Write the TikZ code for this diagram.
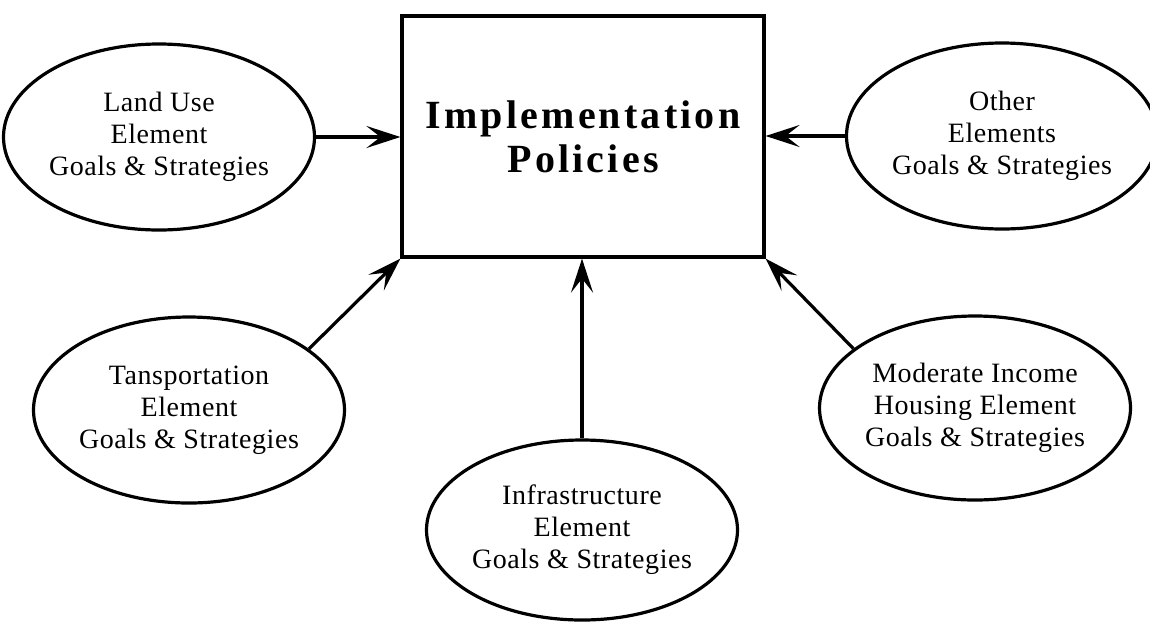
\documentclass[tikz,border=0pt]{standalone}
\usepackage{fontspec}
\setmainfont{Liberation Serif}
\usetikzlibrary{shapes.geometric,arrows.meta}
\begin{document}
\begin{tikzpicture}[x=0.5pt,y=-0.5pt,
  goal/.style={ellipse,draw,line width=1.6pt,inner sep=0pt,align=center,
    font=\fontsize{14}{16}\selectfont\addfontfeatures{LetterSpace=2}},
  feed/.style={-{Stealth[length=17pt,width=11pt,inset=7pt]},line width=1.6pt}]
  \useasboundingbox (0,0) rectangle (1150,622);
  \node (policies) at (583,136.5) [draw,line width=1.6pt,minimum width=181pt,minimum height=120.5pt,
    inner sep=0pt,align=center,font=\fontsize{20}{22}\selectfont\bfseries\addfontfeatures{LetterSpace=8}]
    {Implementation\\Policies};
  \node (landuse) at (159,137) [goal,minimum width=154pt,minimum height=93pt]
    {Land Use\\Element\\Goals \& Strategies};
  \node (other) at (1002,136) [goal,minimum width=146pt,minimum height=93pt]
    {Other\\Elements\\Goals \& Strategies};
  \node (transp) at (189,410) [goal,minimum width=152pt,minimum height=93pt]
    {Tansportation\\Element\\Goals \& Strategies};
  \node (moderate) at (975,408) [goal,minimum width=155pt,minimum height=92pt]
    {Moderate Income\\Housing Element\\Goals \& Strategies};
  \node (infra) at (582,530) [goal,minimum width=150pt,minimum height=90pt]
    {Infrastructure\\Element\\Goals \& Strategies};
  \draw (landuse.east) -- (landuse.east -| policies.west)[feed];
  \draw (other.west) -- (other.west -| policies.east)[feed];
  \draw (transp.27) -- (policies.south west)[feed];
  \draw (moderate.154) -- (policies.south east)[feed];
  \draw (infra.north) -- (infra.north |- policies.south)[feed];
\end{tikzpicture}
\end{document}
